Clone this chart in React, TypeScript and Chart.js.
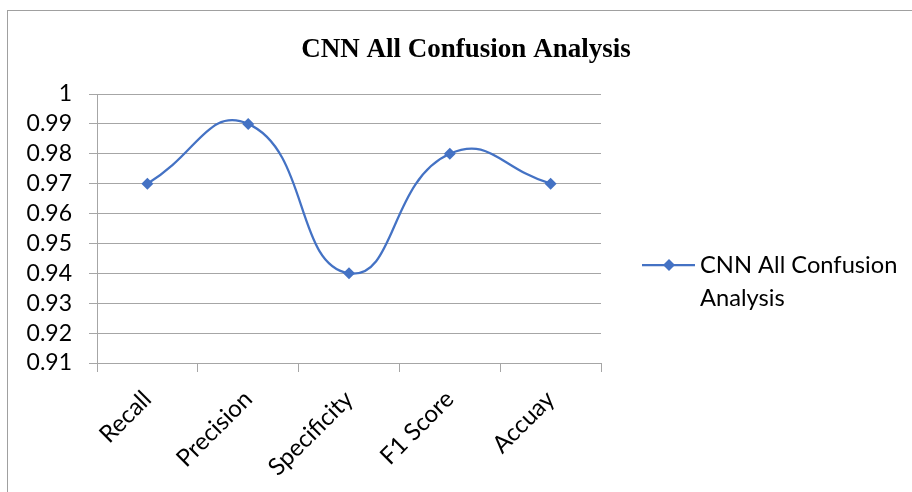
import React, { useEffect, useRef } from "react";
import { Chart, registerables } from "chart.js";

Chart.register(...registerables);

const categories = ["Recall", "Precision", "Specificity", "F1 Score", "Accuay"];
const seriesName = "CNN All Confusion Analysis";
const seriesValues = [0.97, 0.99, 0.94, 0.98, 0.97];
const yMin = 0.91;
const yMax = 1;
const yStep = 0.01;
const chartTitle = "CNN All Confusion Analysis";
const legendLines = ["CNN All Confusion", "Analysis"];

const LINE_COLOR = "#4472C4";
const GRID_COLOR = "#a6a6a6";
const FONT = "Lato, 'Open Sans', sans-serif";

export default function App() {
  const ref = useRef<HTMLCanvasElement | null>(null);

  useEffect(() => {
    document.body.style.margin = "0";
    const canvas = ref.current;
    if (!canvas) return;

    const decor = {
      id: "decor",
      beforeDraw(chart: any) {
        const ctx = chart.ctx;
        ctx.save();
        ctx.fillStyle = "#ffffff";
        ctx.fillRect(0, 0, chart.width, chart.height);
        ctx.strokeStyle = "#a0a0a0";
        ctx.lineWidth = 1;
        ctx.strokeRect(7.5, 10.5, 1200, 1200);
        ctx.restore();
      },
      afterDraw(chart: any) {
        const ctx = chart.ctx;
        ctx.save();
        // title
        ctx.fillStyle = "#000";
        ctx.font = "bold 27px 'Liberation Serif', 'Times New Roman', serif";
        ctx.textAlign = "center";
        ctx.textBaseline = "alphabetic";
        ctx.fillText(chartTitle, 466, 57);
        // legend
        const ly = 265;
        ctx.strokeStyle = LINE_COLOR;
        ctx.lineWidth = 2.25;
        ctx.beginPath();
        ctx.moveTo(642, ly);
        ctx.lineTo(695, ly);
        ctx.stroke();
        ctx.fillStyle = LINE_COLOR;
        ctx.beginPath();
        const r = 6;
        ctx.moveTo(669, ly - r);
        ctx.lineTo(669 + r, ly);
        ctx.lineTo(669, ly + r);
        ctx.lineTo(669 - r, ly);
        ctx.closePath();
        ctx.fill();
        ctx.fillStyle = "#000";
        ctx.font = "23.7px " + FONT;
        ctx.textAlign = "left";
        ctx.textBaseline = "middle";
        legendLines.forEach((t, i) => ctx.fillText(t, 700, ly + i * 33));
        ctx.restore();
      },
    };

    const chart = new Chart(canvas, {
      type: "line",
      data: {
        labels: categories,
        datasets: [
          {
            label: seriesName,
            data: seriesValues,
            borderColor: LINE_COLOR,
            backgroundColor: LINE_COLOR,
            borderWidth: 2.25,
            tension: 0.5,
            pointStyle: "rectRot",
            pointRadius: 6,
            pointBorderWidth: 0,
            fill: false,
          },
        ],
      },
      options: {
        responsive: false,
        animation: false,
        layout: { padding: { left: 0, top: 94, right: 311, bottom: 0 } },
        plugins: {
          legend: { display: false },
          title: { display: false },
          tooltip: { enabled: false },
        },
        scales: {
          x: {
            offset: true,
            afterFit: (s: any) => {
              s.height = 129;
            },
            grid: {
              offset: true,
              drawOnChartArea: false,
              drawTicks: true,
              tickLength: 9,
              color: GRID_COLOR,
            },
            border: { display: true, color: GRID_COLOR },
            ticks: {
              minRotation: 45,
              maxRotation: 45,
              padding: 13,
              color: "#000",
              font: { family: FONT, size: 24 },
              autoSkip: false,
            },
          },
          y: {
            min: yMin,
            max: yMax,
            afterFit: (s: any) => {
              s.width = 97;
            },
            grid: {
              color: GRID_COLOR,
              tickLength: 8,
              drawTicks: true,
            },
            border: { display: true, color: GRID_COLOR },
            ticks: {
              stepSize: yStep,
              autoSkip: false,
              padding: 17,
              color: "#000",
              font: { family: FONT, size: 23 },
              callback: (v: any) => String(Number(Number(v).toFixed(2))),
            },
          },
        },
      },
      plugins: [decor],
    });
    return () => chart.destroy();
  }, []);

  return (
    <div style={{ position: "absolute", left: 0, top: 0, width: 912, height: 492 }}>
      <canvas ref={ref} width={912} height={492} />
    </div>
  );
}
